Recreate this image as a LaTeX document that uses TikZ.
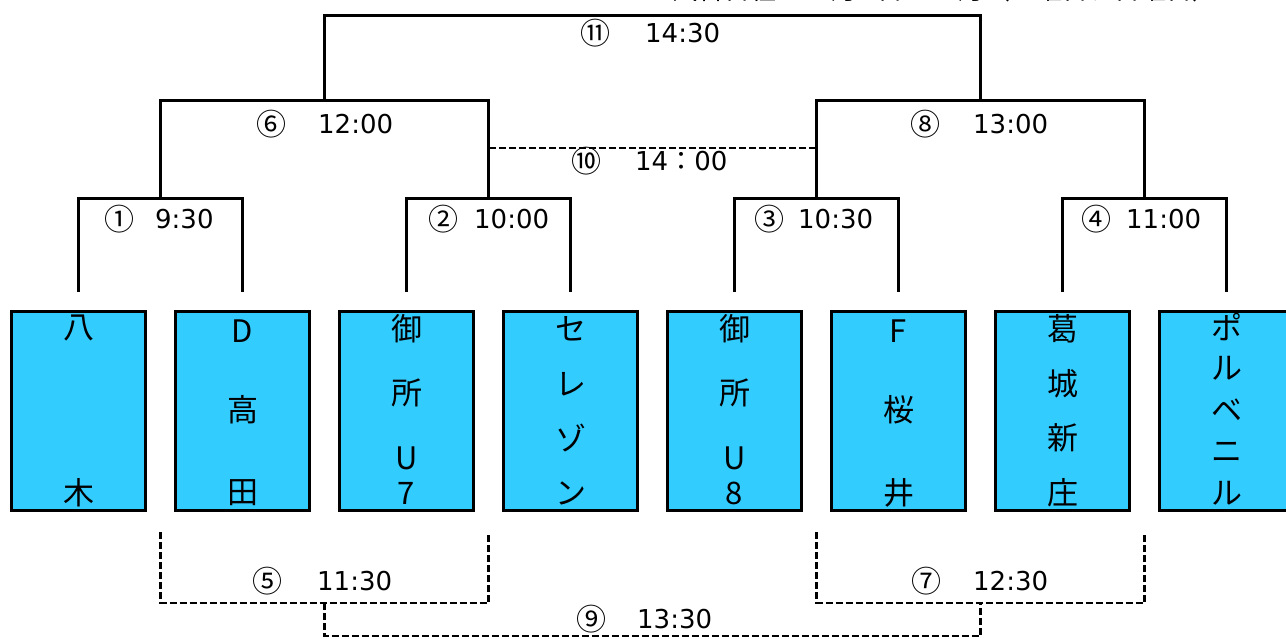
\documentclass[tikz,border=0pt]{standalone}
\usepackage{fontspec}
\newfontfamily\jp{Noto Sans CJK JP}
\newfontfamily\num{DejaVu Sans}
\definecolor{teamblue}{RGB}{51,204,255}
\begin{document}
\begin{tikzpicture}[x=1pt,y=-1pt,
  team/.style={draw=black,line width=3pt,fill=teamblue,minimum width=134pt,minimum height=199pt,inner sep=0pt},
  tchar/.style={font=\jp\fontsize{31}{31}\selectfont,inner sep=0pt},
  win/.style={draw=black,line width=3pt},
  loss/.style={draw=black,line width=2.2pt,dash pattern=on 7pt off 3pt},
  circ/.style={font=\jp\fontsize{30}{30}\selectfont,inner sep=0pt},
  tlabel/.style={font=\num\fontsize{26}{26}\selectfont,inner sep=0pt,anchor=west},
  note/.style={font=\jp\fontsize{26}{26}\selectfont,inner sep=0pt,anchor=base west}
]
\useasboundingbox (0,0) rectangle (1286,638);
\fill[white] (0,0) rectangle (1286,638);

% note at the top edge, cut off as in the source
\node[note] (topnote) at (672,-1) {試合日程　12月 5日　12月（土曜日、日曜日）};

% team boxes
\foreach \x/\n in {78.5/1,242.5/2,406.5/3,570.5/4,734.5/5,898.5/6,1062.5/7,1226.5/8}
  \node[team] (t\n) at (\x,411) {};

% team names
\foreach \c/\y [count=\k] in {八/328,木/493}
  \node[tchar] (a\k) at (t1 |- 0,\y) {\c};
\foreach \c/\y [count=\k] in {D/331,高/410,田/493}
  \node[tchar] (b\k) at (t2 |- 0,\y) {\c};
\foreach \c/\y [count=\k] in {御/329,所/393,U/458,7/493}
  \node[tchar] (c\k) at (t3 |- 0,\y) {\c};
\foreach \c/\y [count=\k] in {セ/329,レ/384,ゾ/438,ン/493}
  \node[tchar] (d\k) at (t4 |- 0,\y) {\c};
\foreach \c/\y [count=\k] in {御/329,所/393,U/458,8/493}
  \node[tchar] (e\k) at (t5 |- 0,\y) {\c};
\foreach \c/\y [count=\k] in {F/331,桜/410,井/493}
  \node[tchar] (f\k) at (t6 |- 0,\y) {\c};
\foreach \c/\y [count=\k] in {葛/329,城/384,新/438,庄/493}
  \node[tchar] (g\k) at (t7 |- 0,\y) {\c};
\foreach \c/\y [count=\k] in {ポ/327,ル/368,ベ/410,ニ/452,ル/493}
  \node[tchar] (h\k) at (t8 |- 0,\y) {\c};

% junction coordinates
\coordinate (m1) at (160.5,198);
\coordinate (m2) at (488.5,198);
\coordinate (m3) at (816.5,198);
\coordinate (m4) at (1144.5,198);
\coordinate (m6) at (324.5,100);
\coordinate (m8) at (980.5,100);
\coordinate (m11) at (652.5,15);
\coordinate (p10a) at (488.5,148);
\coordinate (p10b) at (816.5,148);
\coordinate (b1) at (160.5,532);
\coordinate (b2) at (488.5,532);
\coordinate (b3) at (816.5,532);
\coordinate (b4) at (1144.5,532);
\coordinate (b5) at (324.5,603);
\coordinate (b7) at (980.5,603);
\coordinate (b9) at (652.5,636);

% winners bracket
\draw[win] ([yshift=18pt]t1.north) |- (m1) -| ([yshift=18pt]t2.north);
\draw[win] ([yshift=18pt]t3.north) |- (m2) -| ([yshift=18pt]t4.north);
\draw[win] ([yshift=18pt]t5.north) |- (m3) -| ([yshift=18pt]t6.north);
\draw[win] ([yshift=18pt]t7.north) |- (m4) -| ([yshift=18pt]t8.north);
\draw[win] (m1) |- (m6) -| (m2);
\draw[win] (m3) |- (m8) -| (m4);
\draw[win] (m6) |- (m11) -| (m8);

% losers bracket
\draw[loss] (p10a) -- (p10b);
\draw[loss] (b1) |- (b5) -| (b2);
\draw[loss] (b3) |- (b7) -| (b4);
\draw[loss] (b5) |- (b9) -| (b7);

% match labels
\node[circ] (n1) at (119,219) {①};   \node[tlabel] (s1) at (155,219) {9:30};
\node[circ] (n2) at (443,219) {②};   \node[tlabel] (s2) at (474,219) {10:00};
\node[circ] (n3) at (769,219) {③};   \node[tlabel] (s3) at (798,219) {10:30};
\node[circ] (n4) at (1096,219) {④};  \node[tlabel] (s4) at (1126,219) {11:00};
\node[circ] (n6) at (271,124) {⑥};   \node[tlabel] (s6) at (318,124) {12:00};
\node[circ] (n8) at (925,124) {⑧};   \node[tlabel] (s8) at (973,124) {13:00};
\node[circ] (n11) at (595,33) {⑪};   \node[tlabel] (s11) at (645,33) {14:30};
\node[circ] (n10) at (586,161) {⑩};  \node[tlabel] (s10) at (635,161) {14\jp：\num00};
\node[circ] (n5) at (267,581) {⑤};   \node[tlabel] (s5) at (317,581) {11:30};
\node[circ] (n7) at (926,581) {⑦};   \node[tlabel] (s7) at (973,581) {12:30};
\node[circ] (n9) at (591,619) {⑨};   \node[tlabel] (s9) at (637,619) {13:30};
\end{tikzpicture}
\end{document}
